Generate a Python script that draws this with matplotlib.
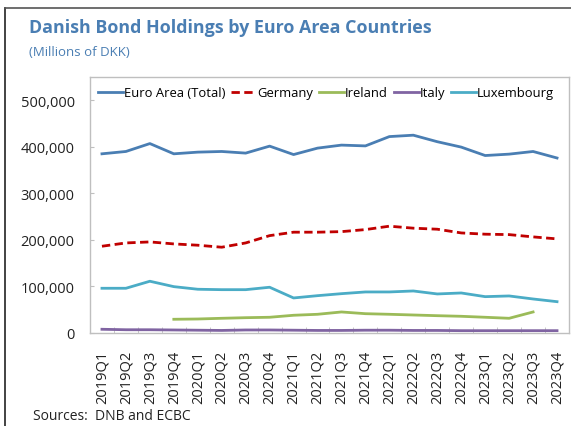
import matplotlib.pyplot as plt
from matplotlib.lines import Line2D
import numpy as np

plt.rcParams['font.family'] = ['Open Sans', 'DejaVu Sans']

# 数据（百万丹麦克朗）
quarters = [f"{y}Q{q}" for y in range(2019, 2024) for q in range(1, 5)]

euro_area = [385000, 390000, 407000, 385000, 388600, 390000, 386500, 401500, 383400, 397200,
             403700, 402000, 422000, 425000, 411000, 399400, 381300, 384300, 390000, 376000]
germany = [186400, 193500, 195700, 191400, 188600, 184300, 193500, 209200, 216600, 216600,
           217800, 222200, 229500, 225200, 223000, 215000, 212300, 211400, 206500, 202200]
# 爱尔兰从2019Q4开始，到2023Q3结束
ireland = [None, None, None, 29500, 30100, 31600, 32900, 33800, 38100, 40200,
           45200, 41500, 40200, 38700, 37200, 35900, 33800, 31600, 45200, None]
italy = [8000, 7000, 7000, 6500, 6000, 5500, 6500, 6500, 6000, 5500,
         5500, 6000, 6000, 5500, 5500, 5000, 5000, 5000, 5000, 5000]
luxembourg = [96100, 96100, 111200, 99600, 94000, 93100, 93100, 98300, 75300, 80200,
              84500, 88200, 88200, 90300, 83900, 86000, 78100, 79600, 73100, 67300]

series = {'Euro Area (Total)': (euro_area, '#4a7eb3', '-'),
          'Germany': (germany, '#c00000', (0, (3, 1.6))),
          'Ireland': (ireland, '#9bbb59', '-'),
          'Italy': (italy, '#8064a2', '-'),
          'Luxembourg': (luxembourg, '#4bacc6', '-')}

fig = plt.figure(figsize=(5.71, 4.27), dpi=100)
ax = fig.add_axes([0.1576, 0.2178, 0.8389, 0.5995])

x = np.arange(len(quarters))
for name, (vals, color, ls) in series.items():
    v = np.array([np.nan if a is None else a for a in vals], dtype=float)
    ax.plot(x, v, color=color, lw=2.0, ls=ls, label=name)

ax.set_xlim(-0.5, len(quarters) - 0.5)
ax.set_ylim(0, 550000)
ax.set_yticks(range(0, 500001, 100000))
ax.set_yticklabels([f"{v:,}" for v in range(0, 500001, 100000)])
ax.set_xticks(x)
ax.set_xticklabels(quarters, rotation=90)
ax.set_xticks(np.arange(-0.5, len(quarters), 1), minor=True)
ax.tick_params(axis='x', which='major', length=0, pad=12, labelsize=10.5, colors='#222222')
ax.tick_params(axis='x', which='minor', direction='in', length=4, color='#bfbfbf')
ax.tick_params(axis='y', direction='in', length=3, pad=11, labelsize=10.5, color='#bfbfbf',
               labelcolor='#222222')
for s in ax.spines.values():
    s.set_color('#bfbfbf')
    s.set_linewidth(1.0)

ax.legend(loc='upper left', ncol=5, frameon=False, fontsize=9.35, handlelength=1.92,
          handletextpad=0.08, columnspacing=0.46, borderaxespad=0.3,
          bbox_to_anchor=(-0.003, 1.0))

fig.text(0.051, 0.934, 'Danish Bond Holdings by Euro Area Countries', fontsize=12.9,
         fontweight='bold', color='#4a7eb3', va='center', ha='left')
fig.text(0.051, 0.876, '(Millions of DKK)', fontsize=9.5, color='#4a7eb3',
         va='center', ha='left')
fig.text(0.058, 0.025, 'Sources:  DNB and ECBC', fontsize=10, color='#222222',
         va='center', ha='left')

# 外框
fig.add_artist(Line2D([0.008, 0.008], [0, 0.979], color='#222222', lw=1.2,
                      transform=fig.transFigure))
fig.add_artist(Line2D([0.008, 1.0], [0.979, 0.979], color='#555555', lw=1.2,
                      transform=fig.transFigure))

fig.savefig('out.png', dpi=100)
